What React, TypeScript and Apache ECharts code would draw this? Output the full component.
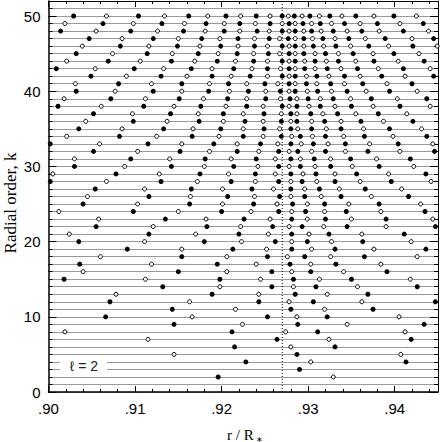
import React, { useEffect, useRef } from "react";
import * as echarts from "echarts";

// ---- axis ranges & labels ----
const X_MIN = 0.9;
const X_MAX = 0.945;
const Y_MIN = 0;
const Y_MAX = 52;
const X_MINOR_STEP = 0.002;
const X_MAJOR_STEP = 0.01;
const Y_MINOR_STEP = 1;
const Y_MAJOR_STEP = 10;
const dottedLineX = 0.927;
const xTitle = "r / R";
const xTitleSub = "∗";
const yTitle = "Radial order, k";
const legendText = "ℓ = 2";

// ---- data: node positions r/R for each radial order k (left to right) ----
const radialOrders = [
  50, 49, 48, 47, 46, 45, 44, 43, 42, 41, 40, 39, 38, 37, 36, 35, 34, 33, 32, 31,
  30, 29, 28, 27, 26, 25, 24, 23, 22, 21, 20, 19, 18, 17, 16, 15, 14, 13, 12, 11,
  10, 9, 8, 7, 6, 5, 4, 3, 2,
];

// type of the leftmost node of each row: F = filled, O = open (types alternate along a row)
const firstNodeType = [
  "F", "O", "F", "F", "O", "F", "O", "F", "F", "O", "F", "O", "F", "F", "O", "F", "O", "F", "F", "O",
  "F", "O", "F", "F", "O", "F", "O", "O", "F", "O", "F", "F", "O", "F", "O", "F", "F", "O", "F", "F",
  "F", "F", "O", "O", "F", "O", "F", "F", "F",
];

const nodeRows: number[][] = [
  [0.9029, 0.9067, 0.9104, 0.9134, 0.9162, 0.9184, 0.9205, 0.9222, 0.924, 0.9256, 0.927, 0.9277, 0.9284, 0.9293, 0.9302, 0.9313, 0.9325, 0.9339, 0.9355, 0.9376, 0.9399, 0.9425],
  [0.9019, 0.9063, 0.9098, 0.9131, 0.9157, 0.9182, 0.9203, 0.9221, 0.9239, 0.9256, 0.927, 0.9278, 0.9285, 0.9294, 0.9304, 0.9314, 0.9327, 0.9342, 0.936, 0.938, 0.9406, 0.9433],
  [0.9014, 0.9055, 0.9095, 0.9126, 0.9156, 0.9181, 0.9203, 0.9221, 0.9241, 0.9255, 0.927, 0.9278, 0.9285, 0.9295, 0.9304, 0.9315, 0.9329, 0.9345, 0.9362, 0.9382, 0.941, 0.9439],
  [0.9047, 0.9085, 0.9121, 0.915, 0.9177, 0.9198, 0.9219, 0.9238, 0.9255, 0.9267, 0.9277, 0.9285, 0.9295, 0.9305, 0.9317, 0.9331, 0.9347, 0.9366, 0.9389, 0.942, 0.9445],
  [0.9039, 0.9083, 0.9116, 0.9149, 0.9175, 0.9199, 0.9219, 0.9238, 0.9253, 0.927, 0.9278, 0.9285, 0.9295, 0.9306, 0.9318, 0.9332, 0.9349, 0.937, 0.9393, 0.9421, 0.9449],
  [0.9032, 0.9074, 0.9114, 0.9143, 0.9173, 0.9196, 0.9218, 0.9237, 0.9254, 0.9267, 0.9278, 0.9285, 0.9295, 0.9308, 0.932, 0.9335, 0.9352, 0.9375, 0.9399, 0.9428],
  [0.9021, 0.9069, 0.9106, 0.9142, 0.9169, 0.9195, 0.9216, 0.9237, 0.9253, 0.927, 0.9278, 0.9285, 0.9296, 0.9308, 0.9321, 0.9335, 0.9355, 0.9376, 0.9404, 0.9434],
  [0.9009, 0.9054, 0.9099, 0.9133, 0.9165, 0.9189, 0.9214, 0.9235, 0.9253, 0.9268, 0.9278, 0.9285, 0.9296, 0.9308, 0.9322, 0.9338, 0.9357, 0.9381, 0.941, 0.9441],
  [0.9049, 0.909, 0.913, 0.916, 0.9189, 0.9211, 0.9233, 0.9253, 0.927, 0.9278, 0.9285, 0.9298, 0.931, 0.9324, 0.9342, 0.936, 0.9385, 0.9412, 0.9445],
  [0.9031, 0.9081, 0.9119, 0.9154, 0.9186, 0.9208, 0.9229, 0.925, 0.9265, 0.9278, 0.9285, 0.9298, 0.931, 0.9326, 0.9342, 0.9363, 0.9391, 0.942],
  [0.9032, 0.9077, 0.9121, 0.9154, 0.9185, 0.9209, 0.9231, 0.9251, 0.9268, 0.9278, 0.9285, 0.9299, 0.9311, 0.9327, 0.9345, 0.9367, 0.9394, 0.9426],
  [0.9018, 0.9072, 0.9112, 0.9151, 0.9179, 0.9207, 0.9229, 0.9251, 0.9268, 0.9279, 0.9287, 0.93, 0.9314, 0.9329, 0.9349, 0.9373, 0.9403, 0.9437],
  [0.9011, 0.9061, 0.911, 0.9145, 0.9176, 0.9205, 0.9229, 0.9248, 0.927, 0.9278, 0.9287, 0.9301, 0.9314, 0.9331, 0.935, 0.9375, 0.9406, 0.9441],
  [0.9052, 0.9097, 0.9141, 0.9173, 0.9202, 0.9225, 0.9249, 0.9269, 0.928, 0.9287, 0.9303, 0.9317, 0.9334, 0.9355, 0.9381, 0.9414],
  [0.9043, 0.9098, 0.9137, 0.9174, 0.9202, 0.9227, 0.9248, 0.9269, 0.928, 0.9287, 0.9304, 0.9319, 0.9338, 0.9361, 0.9387, 0.9421],
  [0.9035, 0.9085, 0.9133, 0.9167, 0.9199, 0.9225, 0.9249, 0.9267, 0.928, 0.9288, 0.9304, 0.9321, 0.9338, 0.9364, 0.9394, 0.9431],
  [0.9021, 0.9082, 0.9125, 0.9166, 0.9197, 0.9225, 0.9248, 0.9269, 0.9281, 0.9291, 0.9305, 0.932, 0.9341, 0.9365, 0.9398, 0.9437],
  [0.9002, 0.9059, 0.9115, 0.9154, 0.9191, 0.9218, 0.9245, 0.9265, 0.928, 0.9292, 0.9306, 0.9323, 0.9343, 0.9371, 0.9404, 0.9444],
  [0.9052, 0.9103, 0.9152, 0.9186, 0.9218, 0.9243, 0.9266, 0.9278, 0.9288, 0.9304, 0.932, 0.9343, 0.9369, 0.9406, 0.9446],
  [0.903, 0.9095, 0.914, 0.9181, 0.9211, 0.924, 0.9262, 0.928, 0.9291, 0.9307, 0.9326, 0.9349, 0.9379, 0.9418],
  [0.903, 0.9088, 0.9142, 0.918, 0.9214, 0.9242, 0.9266, 0.9278, 0.9291, 0.9308, 0.9326, 0.9351, 0.9382, 0.9422],
  [0.9005, 0.9078, 0.9128, 0.9175, 0.9208, 0.9239, 0.9262, 0.928, 0.9294, 0.9309, 0.9331, 0.9356, 0.9393, 0.9436],
  [0.9002, 0.9067, 0.913, 0.9172, 0.9211, 0.9239, 0.9266, 0.928, 0.9293, 0.931, 0.9331, 0.936, 0.9396, 0.9442],
  [0.9054, 0.9111, 0.9165, 0.9201, 0.9235, 0.926, 0.928, 0.9296, 0.9313, 0.9336, 0.9366, 0.9408],
  [0.9045, 0.9116, 0.9164, 0.9207, 0.9238, 0.9267, 0.928, 0.9296, 0.9315, 0.9338, 0.9373, 0.9416],
  [0.904, 0.9103, 0.9163, 0.9201, 0.9237, 0.9264, 0.9282, 0.9299, 0.9319, 0.9347, 0.9382, 0.943],
  [0.9012, 0.9098, 0.915, 0.92, 0.9234, 0.9266, 0.9281, 0.9297, 0.9319, 0.9344, 0.9384, 0.9435],
  [0.9058, 0.9135, 0.9182, 0.9226, 0.9256, 0.9281, 0.9299, 0.932, 0.935, 0.939, 0.9444],
  [0.9055, 0.9121, 0.9183, 0.9222, 0.9259, 0.9278, 0.9293, 0.9318, 0.9345, 0.939, 0.9447],
  [0.9024, 0.9116, 0.917, 0.922, 0.9254, 0.9281, 0.9301, 0.9324, 0.9362, 0.9411],
  [0.9035, 0.9111, 0.918, 0.9223, 0.9262, 0.9281, 0.9299, 0.9327, 0.9363, 0.9419],
  [0.9091, 0.9154, 0.9213, 0.9252, 0.9281, 0.9304, 0.9331, 0.9376, 0.9436],
  [0.906, 0.9154, 0.9206, 0.9253, 0.9276, 0.9296, 0.9326, 0.9365, 0.9426],
  [0.9036, 0.9119, 0.9195, 0.924, 0.9279, 0.9303, 0.9332, 0.9384],
  [0.904, 0.915, 0.9206, 0.9258, 0.9281, 0.9303, 0.9341, 0.9391],
  [0.9018, 0.9112, 0.9198, 0.9245, 0.9283, 0.9313, 0.935, 0.9418],
  [0.9132, 0.9198, 0.9258, 0.9283, 0.9309, 0.9357, 0.9426],
  [0.9078, 0.9189, 0.9243, 0.9285, 0.9322, 0.9369],
  [0.9071, 0.9163, 0.9243, 0.9278, 0.9306, 0.9362, 0.9447],
  [0.9143, 0.9216, 0.928, 0.9319, 0.9375],
  [0.9066, 0.9166, 0.9253, 0.9287, 0.9322, 0.9405],
  [0.9145, 0.9224, 0.9288, 0.9345, 0.9434],
  [0.9019, 0.9212, 0.9274, 0.9311, 0.9412],
  [0.9115, 0.9264, 0.9324, 0.9419],
  [0.9215, 0.928, 0.9331],
  [0.9145, 0.9287, 0.9407],
  [0.9228, 0.9303, 0.9413],
  [0.929],
  [0.9196, 0.9329],
];

function buildNodes() {
  const filled: [number, number][] = [];
  const open: [number, number][] = [];
  nodeRows.forEach((row, i) => {
    const k = radialOrders[i];
    const startFilled = firstNodeType[i] === "F";
    row.forEach((x, j) => {
      const isFilled = j % 2 === 0 ? startFilled : !startFilled;
      (isFilled ? filled : open).push([x, k]);
    });
  });
  return { filled, open };
}

const BLACK = "#000";
const SANS = "'Liberation Sans', Arial, sans-serif";
const SERIF = "'Liberation Serif', 'Times New Roman', serif";

function xAxisDef(position: "top" | "bottom", step: number, tickLen: number, lineWidth: number, showLabel: boolean) {
  return {
    type: "value",
    position,
    min: X_MIN,
    max: X_MAX,
    interval: step,
    axisLine: { show: lineWidth > 0, onZero: false, lineStyle: { color: BLACK, width: lineWidth || 1 } },
    axisTick: { show: true, inside: true, length: tickLen, lineStyle: { color: BLACK, width: 1 } },
    axisLabel: {
      show: showLabel,
      margin: 9,
      color: BLACK,
      fontSize: 15,
      fontFamily: SANS,
      formatter: (v: number) => {
        const r = Math.round(v * 100);
        if (Math.abs(v * 100 - r) > 1e-6) return "";
        return "." + String(r % 100).padStart(2, "0");
      },
    },
    splitLine: { show: false },
  };
}

function yAxisDef(position: "left" | "right", step: number, tickLen: number, lineWidth: number, showLabel: boolean, showSplit: boolean) {
  return {
    type: "value",
    position,
    min: Y_MIN,
    max: Y_MAX,
    interval: step,
    axisLine: { show: lineWidth > 0, onZero: false, lineStyle: { color: BLACK, width: lineWidth || 1 } },
    axisTick: { show: true, inside: true, length: tickLen, lineStyle: { color: BLACK, width: 1 } },
    axisLabel: {
      show: showLabel,
      margin: 8,
      color: BLACK,
      fontSize: 15,
      fontFamily: SANS,
      formatter: (v: number) => (Math.round(v) % Y_MAJOR_STEP === 0 ? String(Math.round(v)) : ""),
    },
    splitLine: { show: showSplit, lineStyle: { color: "#9a9a9a", width: 1 } },
  };
}

export default function App() {
  const ref = useRef<HTMLDivElement>(null);
  useEffect(() => {
    if (!ref.current) return;
    const chart = echarts.init(ref.current, null, { renderer: "svg" });
    const { filled, open } = buildNodes();
    const option: any = {
      animation: false,
      backgroundColor: "#fff",
      grid: { left: 48.5, top: 1, width: 391.5, height: 391, containLabel: false },
      xAxis: [
        xAxisDef("bottom", X_MINOR_STEP, 3, 1.5, true),
        xAxisDef("bottom", X_MAJOR_STEP, 6, 0, false),
        xAxisDef("top", X_MINOR_STEP, 3, 1, false),
        xAxisDef("top", X_MAJOR_STEP, 6, 0, false),
      ],
      yAxis: [
        yAxisDef("left", Y_MINOR_STEP, 4, 1.5, true, true),
        yAxisDef("left", Y_MAJOR_STEP, 8, 0, false, false),
        yAxisDef("right", Y_MINOR_STEP, 4, 1, false, false),
        yAxisDef("right", Y_MAJOR_STEP, 8, 0, false, false),
      ],
      series: [
        {
          type: "line",
          name: "boundary",
          xAxisIndex: 0,
          yAxisIndex: 0,
          data: [
            [dottedLineX, Y_MIN],
            [dottedLineX, Y_MAX],
          ],
          symbol: "none",
          silent: true,
          lineStyle: { type: [1, 2], color: BLACK, width: 1 },
          z: 2,
        },
        {
          type: "scatter",
          name: "open",
          xAxisIndex: 0,
          yAxisIndex: 0,
          data: open,
          symbol: "circle",
          symbolSize: 4,
          itemStyle: { color: "#fff", borderColor: BLACK, borderWidth: 1, opacity: 1 },
          z: 3,
        },
        {
          type: "scatter",
          name: "filled",
          xAxisIndex: 0,
          yAxisIndex: 0,
          data: filled,
          symbol: "circle",
          symbolSize: 5,
          itemStyle: { color: BLACK, opacity: 1 },
          z: 4,
        },
      ],
      graphic: [
        {
          type: "rect",
          z: 10,
          shape: { x: 60, y: 357, width: 47, height: 17 },
          style: { fill: "#fff" },
        },
        {
          type: "text",
          z: 11,
          x: 84,
          y: 366,
          style: { text: legendText, fill: "#222", font: `14px ${SANS}`, textAlign: "center", textVerticalAlign: "middle" },
        },
        {
          type: "text",
          z: 11,
          x: 10,
          y: 203,
          rotation: Math.PI / 2,
          style: { text: yTitle, fill: BLACK, font: `17px ${SERIF}`, textAlign: "center", textVerticalAlign: "middle" },
        },
        {
          type: "text",
          z: 11,
          x: 227,
          y: 435,
          style: { text: xTitle, fill: BLACK, font: `15px ${SERIF}`, textAlign: "left", textVerticalAlign: "middle" },
        },
        {
          type: "text",
          z: 11,
          x: 256,
          y: 439,
          style: { text: xTitleSub, fill: BLACK, font: `8px ${SERIF}`, textAlign: "left", textVerticalAlign: "middle" },
        },
      ],
    };
    chart.setOption(option);
    return () => chart.dispose();
  }, []);
  return (
    <div
      ref={ref}
      style={{ position: "absolute", left: 0, top: 0, width: 441, height: 442, background: "#fff" }}
    />
  );
}
